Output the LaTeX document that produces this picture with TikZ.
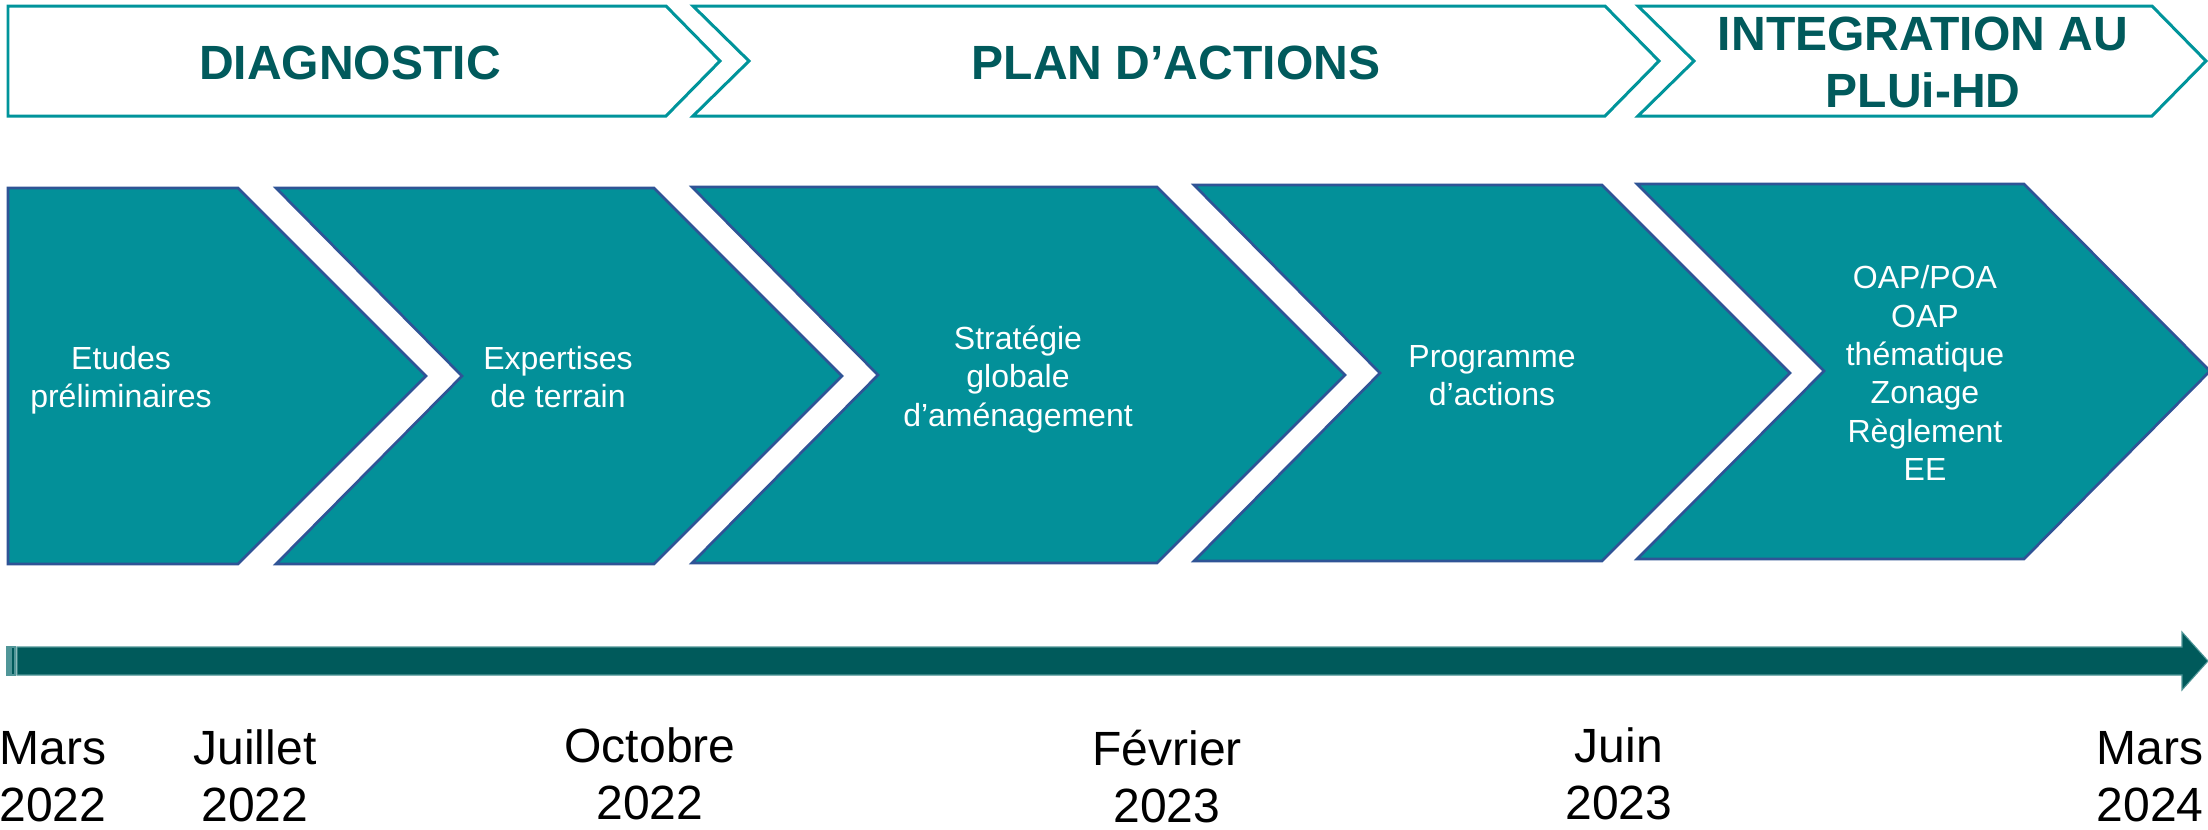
\documentclass[tikz,border=0pt]{standalone}
\usepackage{fontspec}
\setmainfont{Liberation Sans}
\definecolor{hdrline}{RGB}{0,148,155}
\definecolor{hdrtext}{RGB}{1,90,92}
\definecolor{stepfill}{RGB}{3,144,153}
\definecolor{stepline}{RGB}{47,84,150}
\definecolor{barfill}{RGB}{0,90,91}
\definecolor{barline}{RGB}{80,150,152}
\newcommand{\topstrut}{\rule{0pt}{0.7\baselineskip}}
\tikzset{
  hdrbox/.style={draw=hdrline, line width=0.85pt, fill=white, line join=miter},
  hdrlabel/.style={text=hdrtext, font=\fontsize{13.66pt}{16.2pt}\selectfont\bfseries, inner sep=0pt, align=center},
  stepbox/.style={draw=stepline, line width=0.75pt, fill=stepfill, line join=miter},
  steplabel/.style={text=white, font=\fontsize{9.1pt}{10.9pt}\selectfont, inner sep=0pt, align=center},
  datelabel/.style={text=black, font=\fontsize{13.66pt}{16.2pt}\selectfont, inner sep=0pt, align=center},
  barshape/.style={fill=barfill, draw=barline, line width=0.3pt},
}
\begin{document}
\begin{tikzpicture}[x=0.01cm,y=-0.01cm]
\useasboundingbox (0,0) rectangle (2208,829);
\fill[white] (0,0) rectangle (2208,829);

% ---- header chevrons ----
\path[hdrbox] (8,6) -- (666,6) -- (720,61) -- (666,116) -- (8,116) -- cycle;
\path[hdrbox] (693,6) -- (1605,6) -- (1659,61) -- (1605,116) -- (693,116) -- (749,61) -- cycle;
\path[hdrbox] (1638,6) -- (2152,6) -- (2206,61) -- (2152,116) -- (1638,116) -- (1694,61) -- cycle;
\node[hdrlabel, anchor=base] (hdiag) at (350,79) {DIAGNOSTIC};
\node[hdrlabel, anchor=base] (hplan) at (1176,79) {PLAN D’ACTIONS};
\node[hdrlabel, anchor=center] (hinteg) at (1923,68) {\strut INTEGRATION AU\\\strut PLUi-HD};

% ---- step chevrons ----
\path[stepbox] (8,188) -- (238,188) -- (426,376) -- (238,564) -- (8,564) -- cycle;
\path[stepbox] (276,188) -- (654,188) -- (842,376) -- (654,564) -- (276,564) -- (462,376) -- cycle;
\path[stepbox] (692,187) -- (1157,187) -- (1345,375) -- (1157,563) -- (692,563) -- (878,375) -- cycle;
\path[stepbox] (1194,185) -- (1602,185) -- (1790,373) -- (1602,561) -- (1194,561) -- (1380,373) -- cycle;
\path[stepbox] (1637,184) -- (2024,184) -- (2210,371) -- (2024,559) -- (1637,559) -- (1824,371) -- cycle;

\node[steplabel] (s1) at (121,381) {\strut Etudes\\\strut préliminaires};
\node[steplabel] (s2) at (558,381) {\strut Expertises\\\strut de terrain};
\node[steplabel] (s3) at (1018,380) {\strut Stratégie\\\strut globale\\\strut d’aménagement};
\node[steplabel] (s4) at (1492,379) {\strut Programme\\\strut d’actions};
\node[steplabel] (s5) at (1925,377) {\strut OAP/POA\\\strut OAP\\\strut thématique\\\strut Zonage\\\strut Règlement\\\strut EE};

% ---- timeline ----
\path[barshape] (7,647) rectangle (9,675);
\path[barshape] (11,647) rectangle (15,675);
\path[barshape] (17,647) -- (2182,647) -- (2182,632) -- (2208,661) -- (2182,690) -- (2182,675) -- (17,675) -- cycle;

% ---- dates ----
\node[datelabel] (d1) at (53,773) {\topstrut Mars\\\topstrut 2022};
\node[datelabel] (d2) at (255,773) {\topstrut Juillet\\\topstrut 2022};
\node[datelabel] (d3) at (650,771) {\topstrut Octobre\\\topstrut 2022};
\node[datelabel] (d4) at (1167,774) {\topstrut Février\\\topstrut 2023};
\node[datelabel] (d5) at (1619,771) {\topstrut Juin\\\topstrut 2023};
\node[datelabel] (d6) at (2150,773) {\topstrut Mars\\\topstrut 2024};
\end{tikzpicture}
\end{document}
